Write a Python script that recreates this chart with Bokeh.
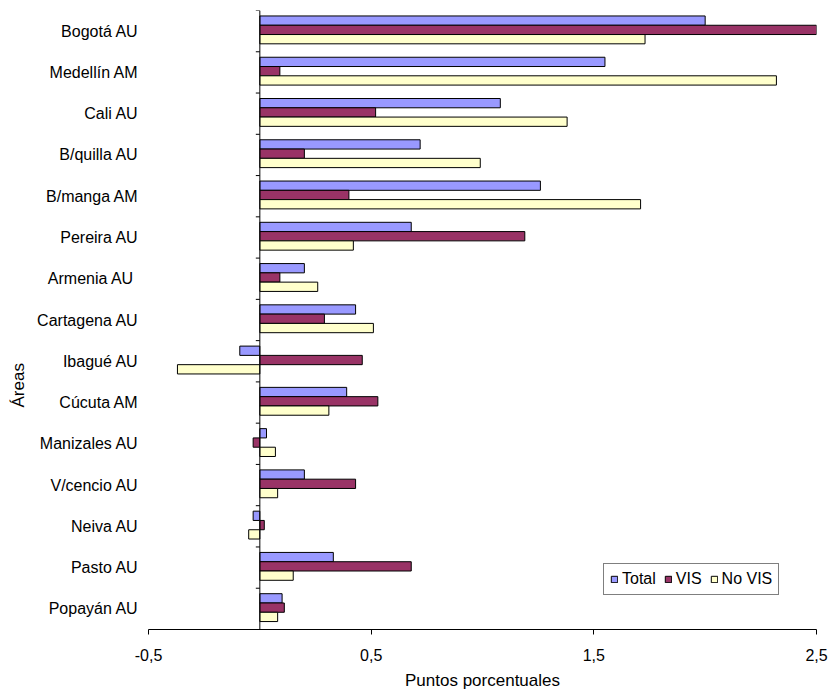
from bokeh.plotting import figure
from bokeh.models import (Range1d, FactorRange, FixedTicker, Span, Legend, LegendItem,
                          Title, ColumnDataSource)
from bokeh.transform import dodge
from bokeh.embed import file_html
from bokeh.resources import INLINE

# ---- data ----
areas = ["Bogotá AU", "Medellín AM", "Cali AU", "B/quilla AU", "B/manga AM", "Pereira AU",
         "Armenia AU ", "Cartagena AU", "Ibagué AU", "Cúcuta AM", "Manizales AU",
         "V/cencio AU", "Neiva AU", "Pasto AU", "Popayán AU"]
total = [2.00, 1.55, 1.08, 0.72, 1.26, 0.68, 0.20, 0.43, -0.09, 0.39, 0.03, 0.20, -0.03, 0.33, 0.10]
vis   = [2.50, 0.09, 0.52, 0.20, 0.40, 1.19, 0.09, 0.29, 0.46, 0.53, -0.03, 0.43, 0.02, 0.68, 0.11]
novis = [1.73, 2.32, 1.38, 0.99, 1.71, 0.42, 0.26, 0.51, -0.37, 0.31, 0.07, 0.08, -0.05, 0.15, 0.08]
series_names = ["Total", "VIS", "No VIS"]
tick_values = [-0.5, 0.5, 1.5, 2.5]
tick_labels = ["-0,5", "0,5", "1,5", "2,5"]
x_title = "Puntos porcentuales"
y_title = "Áreas"

FONT = "Liberation Sans"
FS = "16px"
FS_T = "17px"
colors = ["#9999FF", "#993366", "#FFFFCC"]

src = ColumnDataSource(dict(cat=areas, total=total, vis=vis, novis=novis))

p = figure(width=829, height=693,
           y_range=FactorRange(factors=areas[::-1], range_padding=0),
           x_range=Range1d(tick_values[0], tick_values[-1]),
           output_backend="svg", toolbar_location=None,
           min_border_left=148, min_border_right=13, min_border_top=10, min_border_bottom=64)
p.outline_line_color = None
p.xgrid.visible = False
p.ygrid.visible = False
p.background_fill_color = "white"
p.border_fill_color = "white"

bh = 0.225
r1 = p.hbar(y=dodge("cat", bh + 0.03, range=p.y_range), left=0, right="total", height=bh,
            fill_color=colors[0], line_color="black", line_width=1, source=src)
r2 = p.hbar(y=dodge("cat", 0.03, range=p.y_range), left=0, right="vis", height=bh,
            fill_color=colors[1], line_color="black", line_width=1, source=src)
r3 = p.hbar(y=dodge("cat", -bh + 0.03, range=p.y_range), left=0, right="novis", height=bh,
            fill_color=colors[2], line_color="black", line_width=1, source=src)

# zero axis line with category boundary ticks
p.add_layout(Span(location=0, dimension="height", line_color="black", line_width=1))
p.segment(x0=-0.018, x1=0, y0=dodge("cat", 0.5, range=p.y_range),
          y1=dodge("cat", 0.5, range=p.y_range), line_color="black", line_width=1, source=src)

# x axis
xa = p.xaxis[0]
xa.ticker = FixedTicker(ticks=tick_values)
xa.major_label_overrides = {v: l for v, l in zip(tick_values, tick_labels)}
xa.major_tick_out = 5
xa.major_tick_in = 0
xa.minor_tick_line_color = None
xa.axis_line_color = "black"
xa.major_tick_line_color = "black"
xa.major_label_text_font = FONT
xa.major_label_text_font_size = FS
xa.major_label_text_color = "black"
xa.major_label_standoff = 14
xa.axis_label = x_title
xa.axis_label_text_font = FONT
xa.axis_label_text_font_size = FS_T
xa.axis_label_text_font_style = "normal"
xa.axis_label_text_color = "black"
xa.axis_label_standoff = 7

# y axis (labels only)
ya = p.yaxis[0]
ya.axis_line_color = None
ya.major_tick_line_color = None
ya.minor_tick_line_color = None
ya.major_tick_out = 0
ya.major_tick_in = 0
ya.major_label_standoff = 10
ya.major_label_text_font = FONT
ya.major_label_text_font_size = FS
ya.major_label_text_color = "black"

p.add_layout(Title(text=y_title, align="left", offset=222, standoff=13,
                   text_font=FONT, text_font_size=FS_T, text_font_style="normal",
                   text_color="black"), "left")

legend = Legend(items=[LegendItem(label=series_names[0], renderers=[r1]),
                       LegendItem(label=series_names[1], renderers=[r2]),
                       LegendItem(label=series_names[2], renderers=[r3])],
                orientation="horizontal", location=(455, 34),
                border_line_color="black", border_line_width=1,
                background_fill_color="white", background_fill_alpha=1,
                padding=6, spacing=8, label_standoff=4, glyph_width=8, glyph_height=8,
                label_height=18, label_width=10, margin=0,
                label_text_font=FONT, label_text_font_size=FS, label_text_color="black")
p.add_layout(legend)

open("out.html", "w").write(file_html(p, INLINE))
